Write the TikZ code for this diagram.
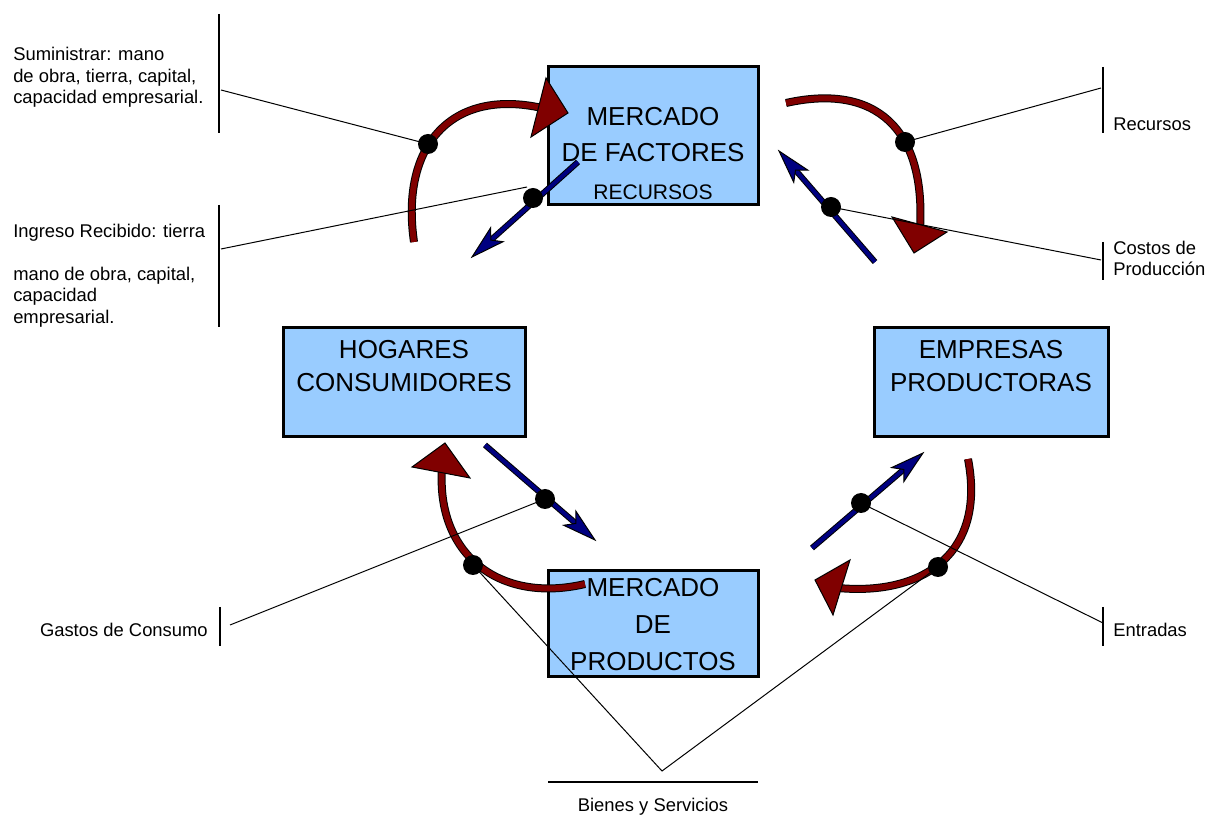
\documentclass[tikz,border=0pt]{standalone}
\usepackage{fontspec}
\setmainfont{Liberation Sans}
\usetikzlibrary{calc}

\definecolor{flujorojo}{HTML}{800000}
\definecolor{flujoazul}{HTML}{000080}
\definecolor{cajaazul}{HTML}{99CCFF}

\tikzset{
  caja/.style={rectangle, draw=black, line width=2.25pt, fill=cajaazul, inner sep=0pt},
  cajatexto/.style={font=\fontsize{19.5}{#1}\selectfont, align=center, inner sep=0pt},
  cajatexto/.default=27pt,
  rotulo/.style={font=\fontsize{13.8}{16.1}\selectfont, align=left, inner sep=0pt},
  barra/.style={line width=1.5pt},
  guia/.style={line width=0.75pt},
  arco/.style={draw=black, line width=0.75pt, double=flujorojo, double distance=4.5pt},
  punta/.style={fill=flujorojo, draw=black, line width=0.75pt},
  dinero/.style={draw=black, line width=0.75pt, double=flujoazul, double distance=3pt},
  puntadinero/.style={fill=flujoazul, draw=black, line width=0.75pt},
  punto/.style={circle, fill=black, minimum size=15pt, inner sep=0pt},
}

% flecha azul: #1 = cola, #2 = punta
\newcommand\flechadinero[2]{%
  \coordinate (#2-b) at ($(#2)!25pt!(#1)$);
  \draw[dinero] (#1) -- ($(#2)!14pt!(#1)$);
  \filldraw[puntadinero] (#2) -- ($(#2-b)!7pt!90:(#2)$) -- ($(#2)!19pt!(#1)$)
     -- ($(#2-b)!7pt!-90:(#2)$) -- cycle;
}

\begin{document}
\begin{tikzpicture}[x=0.75pt,y=-0.75pt]
\useasboundingbox (0,0) rectangle (1208,816);

% cajas
\node[caja, minimum width=157.5pt, minimum height=103.5pt] (factores) at (653,136) {};
\node[caja, minimum width=181.5pt, minimum height=81.75pt] (hogares) at (404,382.5) {};
\node[caja, minimum width=175.5pt, minimum height=81.75pt] (empresas) at (991,382.5) {};
\node[caja, minimum width=157.5pt, minimum height=79.5pt] (productos) at (653,624) {};

\node[cajatexto, anchor=north] (factxt) at (653,107.5) {MERCADO\\DE FACTORES};
\node[font=\fontsize{15.8}{19}\selectfont, anchor=base, inner sep=0pt] (factrec) at (653,199.5) {RECURSOS};
\node[cajatexto=24.75pt, anchor=north] (hogtxt) at (404,340) {HOGARES\\CONSUMIDORES};
\node[cajatexto=24.75pt, anchor=north] (emptxt) at (991,340) {EMPRESAS\\PRODUCTORAS};
\node[cajatexto=27.75pt, anchor=north] (prodtxt) at (653,578) {MERCADO\\DE\\PRODUCTOS};

% flujo real (rojo)
\coordinate (a1i) at (414,242);
\coordinate (a1f) at (542,108);
\draw[arco] (a1i) .. controls (400,145) and (452,88) .. (a1f);
\filldraw[punta] (546,78) -- (568,113) -- (531,137) -- cycle;

\coordinate (a2i) at (786,103);
\coordinate (a2f) at (920,229);
\draw[arco] (a2i) .. controls (875,83) and (926,128) .. (a2f);
\filldraw[punta] (892,217) -- (914,253) -- (947,232) -- cycle;

\coordinate (a3i) at (585,584);
\coordinate (a3f) at (442,468);
\draw[arco] (a3i) .. controls (500,604) and (436,555) .. (a3f);
\filldraw[punta] (412,467) -- (445,443) -- (470,478) -- cycle;

\coordinate (a4i) at (968,459);
\coordinate (a4f) at (838,588);
\draw[arco] (a4i) .. controls (986,552) and (925,596) .. (a4f);
\filldraw[punta] (850,560) -- (815,580) -- (833,615) -- cycle;

% flujo monetario (azul)
\coordinate (c1t) at (578,162);
\coordinate (c1p) at (472,257);
\coordinate (c2t) at (875,262);
\coordinate (c2p) at (779,151);
\coordinate (c3t) at (485,445);
\coordinate (c3p) at (595,540);
\coordinate (c4t) at (812,548);
\coordinate (c4p) at (923,453);
\flechadinero{c1t}{c1p}
\flechadinero{c2t}{c2p}
\flechadinero{c3t}{c3p}
\flechadinero{c4t}{c4p}

% puntos
\node[punto] (d1) at (428,144) {};
\node[punto] (d2) at (533,198) {};
\node[punto] (d3) at (905,142) {};
\node[punto] (d4) at (831,207) {};
\node[punto] (d5) at (545,499) {};
\node[punto] (d6) at (473,565) {};
\node[punto] (d7) at (861,503) {};
\node[punto] (d8) at (938,567) {};

% barras de los rotulos
\draw[barra] (219,14) -- (219,133);
\draw[barra] (219,205) -- (219,327);
\draw[barra] (1103,67) -- (1103,133);
\draw[barra] (1103,242) -- (1103,280);
\draw[barra] (220,607) -- (220,646);
\draw[barra] (1103,607) -- (1103,646);
\draw[barra] (548,782) -- (758,782);

% lineas guia
\coordinate (gS) at (221,90);
\coordinate (gI) at (221,249);
\coordinate (gIf) at (527,187);
\coordinate (gR) at (1101,88);
\coordinate (gC) at (1101,260);
\coordinate (gG) at (230,625);
\coordinate (gE) at (1103,623);
\coordinate (gB) at (662,771);
\draw[guia] (gS) -- (d1.center);
\draw[guia] (gI) -- (gIf);
\draw[guia] (gR) -- (d3.center);
\draw[guia] (gC) -- (d4.center);
\draw[guia] (gG) -- (d5.center);
\draw[guia] (d7.center) -- (gE);
\draw[guia] (d6.center) -- (gB) -- (d8.center);

% rotulos
\node[rotulo, anchor=north west] (sumi) at (13,47) {Suministrar: mano\\de obra, tierra, capital,\\capacidad empresarial.};
\node[rotulo, anchor=north west] (ingreso) at (13,224) {Ingreso Recibido: tierra\\[16.1pt]mano de obra, capital,\\capacidad\\empresarial.};
\node[rotulo, anchor=base west] (recursos) at (1113,131) {Recursos};
\node[rotulo, anchor=north west] (costos) at (1113,240.5) {Costos de\\Producción};
\node[rotulo, anchor=base east] (gastos) at (208,637) {Gastos de Consumo};
\node[rotulo, anchor=base west] (entradas) at (1113,637) {Entradas};
\node[rotulo, anchor=base] (bienes) at (653,811) {Bienes y Servicios};
\end{tikzpicture}
\end{document}
